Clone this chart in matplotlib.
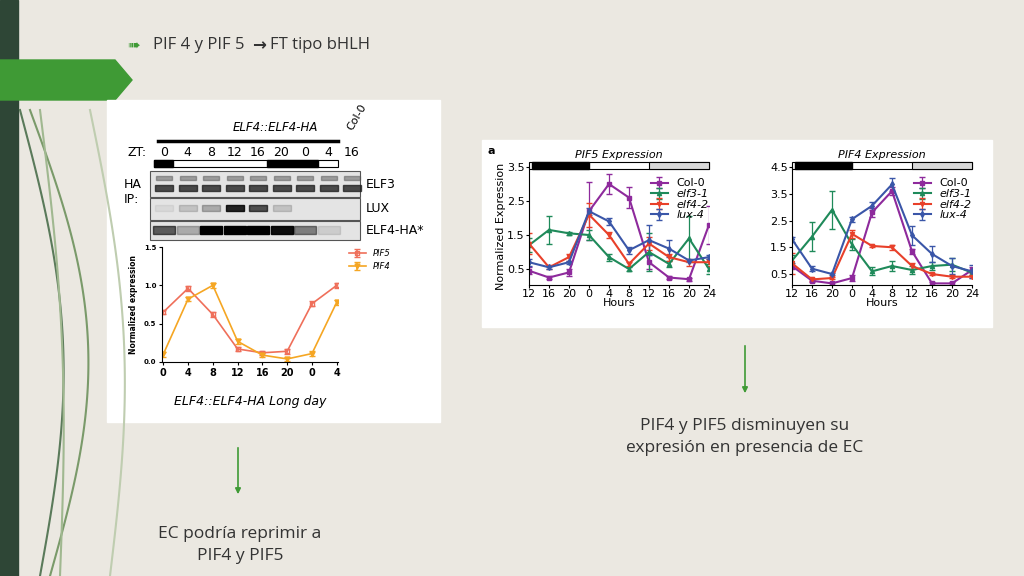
import matplotlib
matplotlib.use("Agg")
import matplotlib.pyplot as plt
from matplotlib.patches import Rectangle, Polygon
import numpy as np

# ---- data ----
left_ticks = ["0", "4", "8", "12", "16", "20", "0", "4"]
left_pif5 = [0.65, 0.96, 0.62, 0.17, 0.12, 0.14, 0.76, 1.0]
left_pif4 = [0.10, 0.82, 1.00, 0.27, 0.09, 0.04, 0.11, 0.78]

hours = ["12", "16", "20", "0", "4", "8", "12", "16", "20", "24"]
genotypes = ["Col-0", "elf3-1", "elf4-2", "lux-4"]
pif5 = {
    "Col-0": [0.45, 0.25, 0.40, 2.20, 3.00, 2.60, 0.70, 0.25, 0.20, 1.80],
    "elf3-1": [1.20, 1.65, 1.55, 1.50, 0.85, 0.50, 1.00, 0.65, 1.40, 0.50],
    "elf4-2": [1.25, 0.55, 0.85, 2.10, 1.50, 0.65, 1.25, 0.85, 0.70, 0.70],
    "lux-4": [0.70, 0.55, 0.70, 2.20, 1.90, 1.05, 1.35, 1.10, 0.75, 0.85],
}
pif5_err = {
    "Col-0": [0.1, 0.05, 0.1, 0.85, 0.3, 0.3, 0.2, 0.05, 0.05, 0.55],
    "elf3-1": [0.2, 0.4, 0.05, 0.15, 0.1, 0.05, 0.55, 0.1, 0.65, 0.15],
    "elf4-2": [0.3, 0.05, 0.1, 0.35, 0.1, 0.05, 0.2, 0.1, 0.1, 0.1],
    "lux-4": [0.1, 0.05, 0.05, 0.1, 0.1, 0.1, 0.45, 0.25, 0.05, 0.05],
}
pif4 = {
    "Col-0": [0.80, 0.25, 0.15, 0.35, 2.80, 3.60, 1.35, 0.15, 0.15, 0.65],
    "elf3-1": [1.00, 1.90, 2.90, 1.60, 0.60, 0.80, 0.65, 0.80, 0.85, 0.55],
    "elf4-2": [0.90, 0.30, 0.35, 2.00, 1.55, 1.50, 0.80, 0.50, 0.40, 0.40],
    "lux-4": [1.80, 0.70, 0.50, 2.55, 3.05, 3.85, 1.95, 1.25, 0.80, 0.60],
}
pif4_err = {
    "Col-0": [0.1, 0.05, 0.05, 0.1, 0.15, 0.15, 0.1, 0.05, 0.05, 0.1],
    "elf3-1": [0.2, 0.55, 0.7, 0.2, 0.15, 0.2, 0.15, 0.15, 0.25, 0.1],
    "elf4-2": [0.4, 0.05, 0.05, 0.15, 0.05, 0.1, 0.1, 0.05, 0.05, 0.05],
    "lux-4": [0.1, 0.1, 0.05, 0.1, 0.15, 0.25, 0.35, 0.3, 0.3, 0.25],
}
colors = {"Col-0": "#8e2a9c", "elf3-1": "#1f8a5a", "elf4-2": "#e8402a", "lux-4": "#3a56a8"}
markers = {"Col-0": "s", "elf3-1": "^", "elf4-2": "v", "lux-4": "d"}

W, H = 1024, 576
fig = plt.figure(figsize=(10.24, 5.76), dpi=100)
fig.patch.set_facecolor("#ebe8e1")
bg = fig.add_axes([0, 0, 1, 1])
bg.set_xlim(0, W); bg.set_ylim(H, 0); bg.axis("off")

# left decorations
bg.add_patch(Rectangle((0, 0), 18, H, color="#2e4636"))
t = np.linspace(0, 1, 100)
for x0, x1, c in [(20, 75, "#5a7a5a"), (30, 110, "#7a9a6a"), (40, 60, "#a0b890"), (90, 130, "#bfcdb0")]:
    bg.plot(x0 + (x1 - x0) * np.sin(t * np.pi) * 0.6 + t * 20, 110 + t * 466, color=c, lw=1.5)
bg.add_patch(Polygon([(0, 60), (115, 60), (132, 80), (115, 100), (0, 100)], color="#3f9a35"))

# header
bg.text(127, 45, "\u27a0", fontsize=11, color="#3f9a35", va="center", ha="left", family="DejaVu Sans")
bg.text(153, 45, "PIF 4 y PIF 5", fontsize=12, color="#333333", va="center", family="Open Sans")
bg.text(252, 45, "\u2192", fontsize=12, color="#333333", va="center", family="DejaVu Sans",
        fontweight="bold")
bg.text(270, 45, "FT tipo bHLH", fontsize=12, color="#333333", va="center", family="Open Sans")

# left panel
bg.add_patch(Rectangle((107, 100), 333, 322, color="white"))
bg.text(275, 131, "ELF4::ELF4-HA", fontsize=8.5, ha="center", style="italic")
bg.plot([158, 338], [141, 141], color="black", lw=2.5)
bg.text(357, 130, "Col-0", fontsize=8, rotation=60, ha="center")
bg.text(128, 152, "ZT:", fontsize=9, va="center")
for i, lab in enumerate(["0", "4", "8", "12", "16", "20", "0", "4", "16"]):
    bg.text(164 + i * 23.5, 152, lab, fontsize=9, va="center", ha="center")
bg.add_patch(Rectangle((154, 160), 184, 7, fill=False, lw=0.8))
bg.add_patch(Rectangle((154, 160), 19, 7, color="black"))
bg.add_patch(Rectangle((267, 160), 51, 7, color="black"))
for y0, y1, lab in [(171, 197, "ELF3"), (198, 220, "LUX"), (221, 240, "ELF4-HA*")]:
    bg.add_patch(Rectangle((150, y0), 210, y1 - y0, facecolor="#e4e4e4", edgecolor="#555", lw=0.8))
    bg.text(366, (y0 + y1) / 2, lab, fontsize=9, va="center")
for i in range(9):
    xc = 164 + i * 23.5
    bg.add_patch(Rectangle((xc - 9, 185), 18, 6, color="#222", alpha=0.8))
    bg.add_patch(Rectangle((xc - 8, 176), 16, 4, color="#555", alpha=0.5))
for i, a in enumerate([0.05, 0.15, 0.25, 0.85, 0.65, 0.15, 0.0, 0.0, 0.0]):
    bg.add_patch(Rectangle((164 + i * 23.5 - 9, 205), 18, 6, color="black", alpha=a))
for i, a in enumerate([0.6, 0.25, 1, 1, 1, 0.95, 0.45, 0.1, 0.0]):
    bg.add_patch(Rectangle((164 + i * 23.5 - 11, 226), 22, 8, color="black", alpha=a))
bg.text(124, 192, "HA\nIP:", fontsize=9, va="center")
bg.text(250, 405, "ELF4::ELF4-HA Long day", fontsize=9, ha="center", style="italic")

def ax_from_px(x0, x1, y0, y1):
    return fig.add_axes([x0 / W, 1 - y1 / H, (x1 - x0) / W, (y1 - y0) / H])

axl = ax_from_px(162, 338, 247, 362)
xl = np.arange(len(left_ticks))
axl.errorbar(xl, left_pif5, yerr=0.03, color="#ef6f5a", marker="s", ms=3.5, mfc="none",
             lw=1.2, capsize=2, label="PIF5")
axl.errorbar(xl, left_pif4, yerr=0.03, color="#f5a623", marker="v", ms=3.5, lw=1.2,
             capsize=2, label="PIF4")
axl.set_ylim(0, 1.5); axl.set_xlim(-0.05, 7.05)
axl.set_xticks(xl); axl.set_xticklabels(left_ticks, fontsize=7, fontweight="bold")
axl.set_yticks([0, 0.5, 1.0, 1.5]); axl.set_yticklabels(["0.0", "0.5", "1.0", "1.5"], fontsize=5, fontweight="bold")
axl.set_ylabel("Normalized expression", fontsize=5.5, fontweight="bold")
axl.tick_params(length=2, pad=2)
for s in ["top", "right"]:
    axl.spines[s].set_visible(False)
axl.patch.set_alpha(0)
axl.legend(loc="upper left", bbox_to_anchor=(1.02, 1.05), frameon=False,
           prop={"style": "italic", "size": 6})

# right panel
bg.add_patch(Rectangle((482, 140), 510, 187, color="white"))
bg.text(488, 154, "a", fontsize=8, fontweight="bold")

def panel(x0, x1, y0, y1, data, err, ylim, yt, title):
    ax = ax_from_px(x0, x1, y0, y1)
    x = np.arange(len(hours))
    for g in genotypes:
        ax.errorbar(x, data[g], yerr=err[g], color=colors[g], marker=markers[g], ms=3,
                    lw=1.5, capsize=2, elinewidth=0.9, label=g)
    ax.set_xlim(0, 9); ax.set_ylim(*ylim)
    ax.set_xticks(x); ax.set_xticklabels(hours, fontsize=8)
    ax.set_yticks(yt); ax.set_yticklabels([str(v) for v in yt], fontsize=8)
    ax.set_xlabel("Hours", fontsize=8, labelpad=-1)
    for s in ["top", "right"]:
        ax.spines[s].set_visible(False)
    ax.tick_params(length=2, pad=1)
    ax.patch.set_alpha(0)
    ax.legend(loc="upper right", bbox_to_anchor=(1.03, 0.95), frameon=False,
              handlelength=1.5, borderpad=0, labelspacing=0.05, prop={"size": 8})
    for txt in ax.get_legend().get_texts()[1:]:
        txt.set_style("italic")
    yb0 = y0 - 5
    bg.add_patch(Rectangle((x0, yb0), x1 - x0, 7, facecolor="white", edgecolor="black", lw=0.8))
    bg.add_patch(Rectangle((x0 + 3, yb0), (x1 - x0) / 3 - 3, 7, color="black"))
    bg.add_patch(Rectangle((x0 + 2 * (x1 - x0) / 3, yb0), (x1 - x0) / 3, 7,
                           facecolor="#d8d8d8", edgecolor="black", lw=0.8))
    bg.text((x0 + x1) / 2, yb0 - 2, title, fontsize=8, ha="center", va="bottom", style="italic")
    return ax

ax5 = panel(529, 709, 167, 285, pif5, pif5_err, (0.03, 3.5), [0.5, 1.5, 2.5, 3.5], "PIF5 Expression")
ax5.set_ylabel("Normalized Expression", fontsize=8, labelpad=1)
ax4 = panel(792, 972, 167, 285, pif4, pif4_err, (0.09, 4.5), [0.5, 1.5, 2.5, 3.5, 4.5], "PIF4 Expression")

# arrows and captions
for x, ya, yb in [(238, 445, 497), (745, 343, 396)]:
    bg.annotate("", xy=(x, yb), xytext=(x, ya),
                arrowprops=dict(arrowstyle="-|>", color="#3f9a35", lw=1.2, mutation_scale=8))
bg.text(745, 437, "PIF4 y PIF5 disminuyen su\nexpresión en presencia de EC", fontsize=12.5,
        ha="center", va="center", color="#333333", family="Open Sans", linespacing=1.5)
bg.text(240, 545, "EC podría reprimir a\nPIF4 y PIF5", fontsize=12.5, ha="center", va="center",
        color="#333333", family="Open Sans", linespacing=1.5)

fig.savefig("out.png", dpi=100, facecolor=fig.get_facecolor())
